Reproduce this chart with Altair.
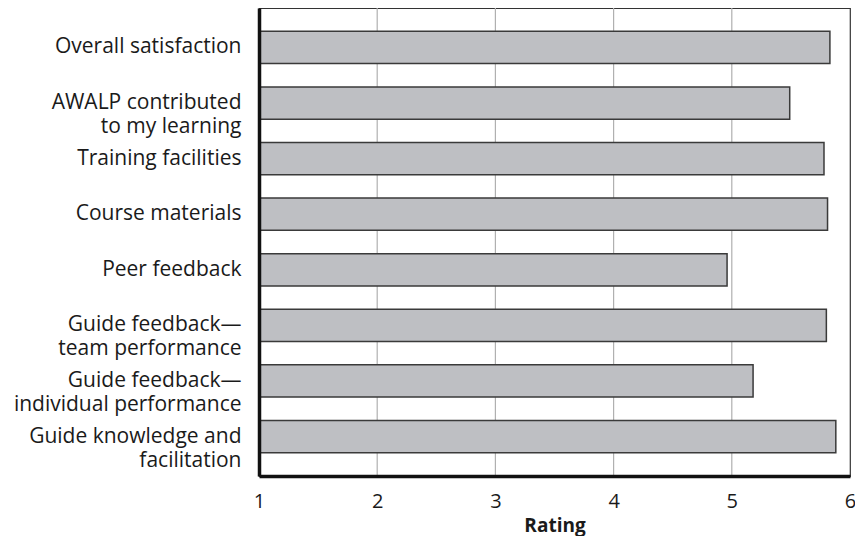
import altair as alt
import pandas as pd

categories = [
    "Overall satisfaction",
    "AWALP contributed\nto my learning",
    "Training facilities",
    "Course materials",
    "Peer feedback",
    "Guide feedback—\nteam performance",
    "Guide feedback—\nindividual performance",
    "Guide knowledge and\nfacilitation",
]
ratings = [5.83, 5.49, 5.78, 5.81, 4.96, 5.80, 5.18, 5.88]
tick_values = [1, 2, 3, 4, 5, 6]
grid_values = [2, 3, 4, 5]

df = pd.DataFrame({"item": categories, "rating": ratings})
grid_df = pd.DataFrame({"g": grid_values})

FONT = "Open Sans"
TXT = "#1a1a1a"

xscale = alt.Scale(domain=[1, 6], zero=False, nice=False)
xaxis = alt.Axis(title="Rating", values=tick_values, format="d",
                 labelFontSize=20, labelFont=FONT, labelColor=TXT,
                 labelPadding=15, ticks=False, labelFlush=False,
                 titleFont=FONT, titleFontSize=19, titleFontWeight="bold",
                 titleColor=TXT, titlePadding=5,
                 domainColor="#111111", domainWidth=3.5,
                 grid=False, zindex=1)

grid = alt.Chart(grid_df).mark_rule(color="#b0b0b0", strokeWidth=1.2).encode(
    x=alt.X("g:Q", scale=xscale, axis=xaxis, title="Rating")
)

bars = alt.Chart(df).mark_bar(
    fill="#BEBFC3", stroke="#3a3a3a", strokeWidth=1.5
).encode(
    y=alt.Y("item:N", sort=categories,
            scale=alt.Scale(paddingInner=0.42, paddingOuter=0.42),
            axis=alt.Axis(title=None, labelExpr="split(datum.value, '\\n')",
                          labelFontSize=21, labelFont=FONT, labelColor=TXT,
                          labelPadding=18, labelLineHeight=24, ticks=False,
                          domainColor="#111111", domainWidth=3.5,
                          labelLimit=300, zindex=1)),
    x=alt.X("rating:Q", scale=xscale, axis=xaxis, title="Rating"),
    x2=alt.datum(1),
)

chart = alt.layer(grid, bars).properties(
    width=591, height=468,
    padding={"left": 251, "top": 0, "right": 5, "bottom": 60},
    autosize=alt.AutoSizeParams(type="none"),
).configure_view(
    stroke="#333333", strokeWidth=1.2
)

chart.save("out.html", embed_options={"renderer": "svg", "actions": False})
